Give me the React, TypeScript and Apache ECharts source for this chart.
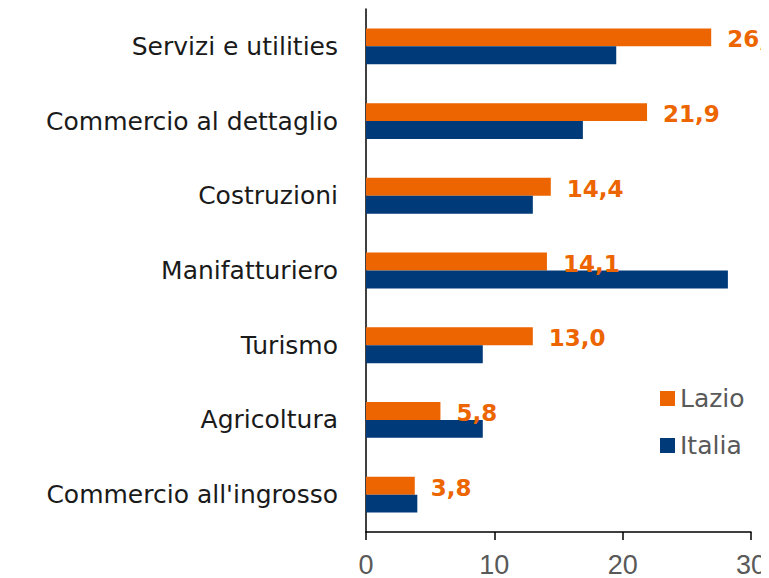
import React, { useEffect, useRef } from "react";
import * as echarts from "echarts";

const categories = [
  "Servizi e utilities",
  "Commercio al dettaglio",
  "Costruzioni",
  "Manifatturiero",
  "Turismo",
  "Agricoltura",
  "Commercio all'ingrosso",
];
const lazio = [26.9, 21.9, 14.4, 14.1, 13.0, 5.8, 3.8];
const italia = [19.5, 16.9, 13.0, 28.2, 9.1, 9.1, 4.0];
const seriesNames = ["Lazio", "Italia"];

const ORANGE = "#EC6500";
const BLUE = "#003A78";
const FONT = "DejaVu Sans";

export default function App() {
  const ref = useRef<HTMLDivElement>(null);
  useEffect(() => {
    if (!ref.current) return;
    const chart = echarts.init(ref.current, null, { renderer: "svg" });
    chart.setOption({
      animation: false,
      textStyle: { fontFamily: FONT },
      grid: { left: 358, right: 10, top: 1, bottom: 39, containLabel: false },
      legend: {
        orient: "vertical",
        left: 647,
        top: 373,
        itemWidth: 15,
        itemHeight: 15,
        itemGap: 22,
        icon: "rect",
        textStyle: { fontFamily: FONT, fontSize: 25, color: "#595959" },
        data: seriesNames,
      },
      xAxis: {
        type: "value",
        min: 0,
        max: 30,
        interval: 10,
        splitLine: { show: false },
        axisLine: { show: true, lineStyle: { color: "#000", width: 1.5 } },
        axisTick: { show: true, length: 8, lineStyle: { color: "#000", width: 1.5 } },
        axisLabel: { fontFamily: "Liberation Sans", fontSize: 27, color: "#595959", margin: 19 },
      },
      yAxis: {
        type: "category",
        inverse: true,
        data: categories,
        axisLine: { show: true, lineStyle: { color: "#000", width: 1.5 } },
        axisTick: { show: false },
        axisLabel: { fontFamily: FONT, fontSize: 25, color: "#1a1a1a", margin: 28 },
      },
      series: [
        {
          name: seriesNames[0],
          type: "bar",
          data: lazio,
          itemStyle: { color: ORANGE },
          barGap: "0%",
          barCategoryGap: "52%",
          label: {
            show: true,
            position: "right",
            distance: 16,
            fontFamily: FONT,
            fontSize: 23,
            fontWeight: "bold",
            color: ORANGE,
            offset: [0, 2],
            formatter: (p: any) => p.value.toFixed(1).replace(".", ","),
          },
        },
        {
          name: seriesNames[1],
          type: "bar",
          data: italia,
          itemStyle: { color: BLUE },
          barGap: "0%",
          barCategoryGap: "52%",
        },
      ],
    });
    return () => chart.dispose();
  }, []);
  return <div ref={ref} style={{ width: 761, height: 570 }} />;
}
